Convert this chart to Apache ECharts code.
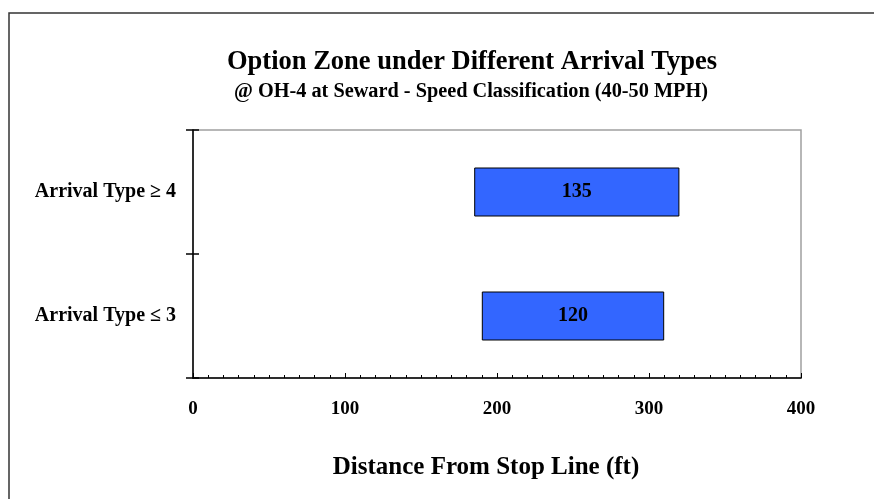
<!DOCTYPE html>
<html>
<head>
<meta charset="utf-8">
<script src="https://cdn.jsdelivr.net/npm/echarts@6/dist/echarts.min.js"></script>
<style>
html,body{margin:0;padding:0;background:#fff;}
#chart{width:874px;height:499px;}
</style>
</head>
<body>
<div id="chart"></div>
<script>
const categories = ['Arrival Type \u2264 3', 'Arrival Type \u2265 4'];
const zoneStart = [190, 185];
const zoneLength = [120, 135];
const xMin = 0, xMax = 400, xInterval = 100;

const FONT = '"Liberation Serif", "Times New Roman", serif';
const chart = echarts.init(document.getElementById('chart'));
chart.setOption({
  backgroundColor: '#fff',
  animation: false,
  title: [
    { text: 'Option Zone under Different Arrival Types', left: 467, textAlign: 'center', top: 44,
      textStyle: { fontFamily: FONT, fontWeight: 'bold', fontSize: 26.5, color: '#000' } },
    { text: '@ OH-4 at Seward - Speed Classification (40-50 MPH)', left: 466, textAlign: 'center', top: 77,
      textStyle: { fontFamily: FONT, fontWeight: 'bold', fontSize: 20.3, color: '#000' } }
  ],
  graphic: [
    { type: 'rect', shape: { x: 9, y: 13, width: 900, height: 600 }, style: { fill: 'none', stroke: '#333', lineWidth: 1.5 }, silent: true }
  ],
  grid: { left: 193, right: 73, top: 130, bottom: 121, show: true, borderColor: '#a0a0a0', borderWidth: 1.5, backgroundColor: 'transparent' },
  xAxis: {
    type: 'value', min: xMin, max: xMax, interval: xInterval,
    name: 'Distance From Stop Line (ft)', nameLocation: 'middle', nameGap: 77,
    nameTextStyle: { fontFamily: FONT, fontWeight: 'bold', fontSize: 25, color: '#000', padding: [0, 22, 0, 0] },
    axisLine: { show: true, lineStyle: { color: '#000', width: 1.5 } },
    axisTick: { show: true, inside: true, length: 5, lineStyle: { color: '#000', width: 1 } },
    minorTick: { show: true, splitNumber: 10, length: 3, lineStyle: { color: '#000', width: 1 } },
    splitLine: { show: false },
    axisLabel: { margin: 22, fontFamily: FONT, fontWeight: 'bold', fontSize: 19, color: '#000' }
  },
  yAxis: [
    {
      type: 'category', data: categories,
      axisLine: { show: true, lineStyle: { color: '#000', width: 1.5 } },
      axisTick: { show: true, inside: false, length: 7, lineStyle: { color: '#000', width: 1.5 } },
      axisLabel: { margin: 17, fontFamily: FONT, fontWeight: 'bold', fontSize: 20, color: '#000' },
      splitLine: { show: false }
    },
    {
      type: 'category', data: categories, position: 'left',
      axisLine: { show: false },
      axisTick: { show: true, inside: true, length: 6, lineStyle: { color: '#000', width: 1.5 } },
      axisLabel: { show: false },
      splitLine: { show: false }
    }
  ],
  series: [
    {
      type: 'bar', stack: 'zone', yAxisIndex: 0, data: zoneStart, barWidth: 49,
      itemStyle: { color: 'transparent' }, silent: true
    },
    {
      type: 'bar', stack: 'zone', yAxisIndex: 0, data: zoneLength, barWidth: 49,
      itemStyle: { color: '#3366FF', borderColor: '#000', borderWidth: 1 },
      label: { show: true, position: 'inside', fontFamily: FONT, fontWeight: 'bold', fontSize: 20, color: '#000' }
    }
  ]
});
</script>
</body>
</html>
